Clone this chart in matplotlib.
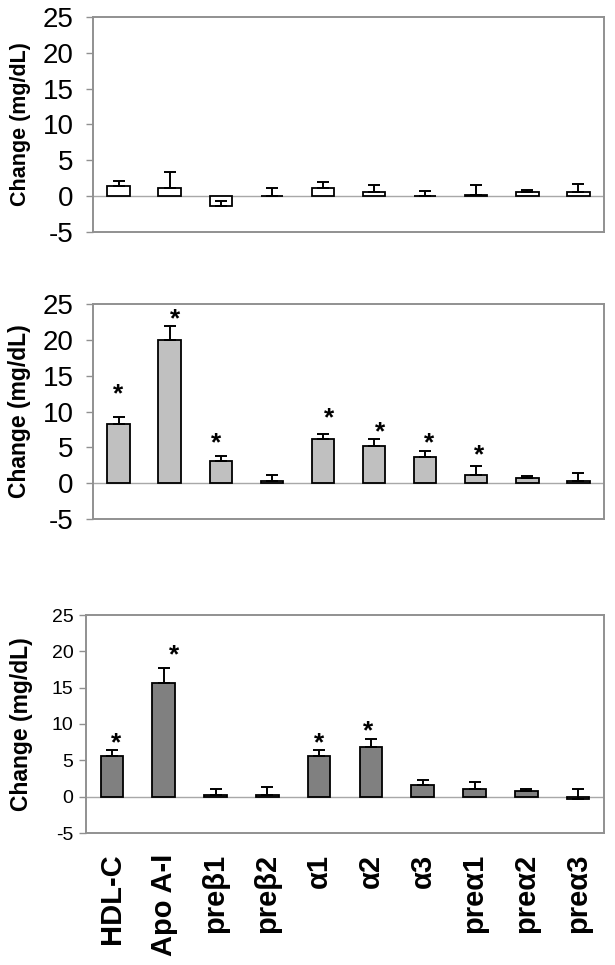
import matplotlib
matplotlib.use("Agg")
import matplotlib.pyplot as plt
import numpy as np

plt.rcParams['font.family'] = ['Liberation Sans', 'DejaVu Sans']

categories = ["HDL-C", "Apo A-I", "preβ1", "preβ2", "α1", "α2", "α3",
              "preα1", "preα2", "preα3"]

# Panel 1 (white bars)
p1_mean = [1.48, 1.16, -1.39, 0.05, 1.16, 0.56, 0.04, 0.20, 0.60, 0.56]
p1_sem = [0.70, 2.17, 0.70, 1.11, 0.78, 0.97, 0.70, 1.30, 0.22, 1.15]
p1_star = [None] * 10

# Panel 2 (light gray bars)
p2_mean = [8.24, 19.95, 3.10, 0.32, 6.20, 5.25, 3.60, 1.16, 0.74, 0.32]
p2_sem = [1.02, 2.05, 0.70, 0.84, 0.65, 0.85, 0.90, 1.20, 0.28, 1.12]
p2_star = [12.4, 22.8, 5.5, None, 9.0, 7.1, 5.5, 3.9, None, None]
p2_star_shift = [0.0, 0.10, -0.09, 0.0, 0.12, 0.11, 0.085, 0.06, 0.0, 0.0]

# Panel 3 (dark gray bars)
p3_mean = [5.64, 15.60, 0.28, 0.28, 5.64, 6.88, 1.56, 1.05, 0.78, -0.32]
p3_sem = [0.83, 2.06, 0.72, 1.00, 0.78, 1.10, 0.78, 1.01, 0.22, 1.32]
p3_star = [7.3, 19.4, None, None, 7.3, 9.0, None, None, None, None]
p3_star_shift = [0.085, 0.21, 0.0, 0.0, 0.0, -0.05, 0.0, 0.0, 0.0, 0.0]

yticks = [-5, 0, 5, 10, 15, 20, 25]

W, H = 615, 965
fig = plt.figure(figsize=(W / 100, H / 100), dpi=100)


def px_axes(l, t, r, b):
    return fig.add_axes([l / W, 1 - b / H, (r - l) / W, (b - t) / H])


panels = [
    dict(rect=(93, 17, 604, 232), mean=p1_mean, sem=p1_sem, star=p1_star,
         shift=[0] * 10, color="white", tick_fs=20, pad=9, lab_x=-0.121,
         lab_fs=15.5, xlabels=False),
    dict(rect=(93, 304, 604, 519), mean=p2_mean, sem=p2_sem, star=p2_star,
         shift=p2_star_shift, color="#c0c0c0", tick_fs=20, pad=9, lab_x=-0.121,
         lab_fs=16.5, xlabels=False),
    dict(rect=(86, 615, 604, 833), mean=p3_mean, sem=p3_sem, star=p3_star,
         shift=p3_star_shift, color="#808080", tick_fs=14, pad=4, lab_x=-0.102,
         lab_fs=16.5, xlabels=True),
]

frame_col = "#909090"
x = np.arange(len(categories))
for p in panels:
    ax = px_axes(*p["rect"])
    ax.axhline(0, color="#a8a8a8", lw=1.0, zorder=1)
    ax.bar(x, p["mean"], width=0.44, color=p["color"], edgecolor="black",
           linewidth=1.3, zorder=2)
    sem = np.array(p["sem"])
    ax.errorbar(x, p["mean"], yerr=[np.zeros_like(sem), sem], fmt="none",
                ecolor="black", elinewidth=1.4, capsize=4.3, capthick=1.4,
                zorder=3)
    for i, s in enumerate(p["star"]):
        if s is not None:
            ax.text(i + p["shift"][i], s, "*", ha="center", va="center",
                    fontsize=19, fontweight="bold", zorder=4)
    ax.set_xlim(-0.5, len(categories) - 0.5)
    ax.set_ylim(-5, 25)
    ax.set_yticks(yticks)
    ax.set_yticklabels([str(v) for v in yticks], fontsize=p["tick_fs"])
    ax.tick_params(axis="y", length=5, color=frame_col, width=1, pad=p["pad"])
    for sp in ax.spines.values():
        sp.set_color(frame_col)
        sp.set_linewidth(1.4)
    ax.set_ylabel("Change (mg/dL)", fontsize=p["lab_fs"], fontweight="bold")
    ax.yaxis.set_label_coords(p["lab_x"], 0.5)
    ax.set_xticks(x)
    if p["xlabels"]:
        ax.set_xticklabels(categories, rotation=90, fontsize=21,
                           fontweight="bold", va="top", ha="center")
        ax.tick_params(axis="x", length=0, pad=15)
    else:
        ax.set_xticklabels([])
        ax.tick_params(axis="x", length=0)

fig.savefig("out.png", dpi=100)
